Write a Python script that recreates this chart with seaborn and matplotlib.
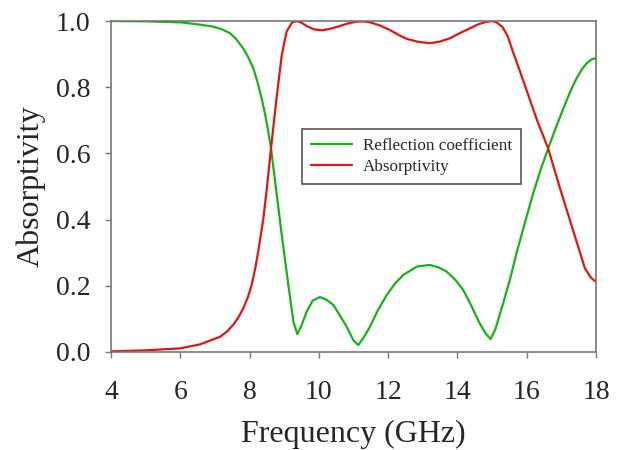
import matplotlib
matplotlib.use("Agg")
import matplotlib.pyplot as plt
import seaborn as sns
import pandas as pd

# Reflection coefficient (green)
refl_freq = [4.0, 5.0, 6.0, 6.5, 6.95, 7.2, 7.44, 7.6, 7.82, 7.95, 8.11, 8.23, 8.35, 8.45, 8.54,
             8.62, 8.75, 8.93, 9.12, 9.27, 9.38, 9.5, 9.65, 9.82, 10.03, 10.22, 10.42, 10.6,
             10.8, 11.0, 11.14, 11.3, 11.48, 11.7, 11.96, 12.2, 12.44, 12.83, 13.2, 13.45,
             13.69, 13.95, 14.17, 14.4, 14.65, 14.82, 14.96, 15.1, 15.3, 15.52, 15.71, 16.0,
             16.19, 16.4, 16.62, 16.85, 17.06, 17.25, 17.44, 17.6, 17.73, 17.87, 18.0]
refl_vals = [1.0, 0.999, 0.996, 0.99, 0.983, 0.975, 0.963, 0.947, 0.917, 0.893, 0.857, 0.815, 0.766,
             0.718, 0.666, 0.616, 0.505, 0.353, 0.202, 0.09, 0.054, 0.08, 0.122, 0.155, 0.166,
             0.158, 0.142, 0.112, 0.077, 0.035, 0.021, 0.045, 0.077, 0.125, 0.172, 0.207, 0.233,
             0.258, 0.263, 0.256, 0.243, 0.217, 0.187, 0.14, 0.085, 0.055, 0.039, 0.07, 0.14,
             0.22, 0.30, 0.41, 0.48, 0.55, 0.615, 0.68, 0.736, 0.785, 0.827, 0.855, 0.872,
             0.884, 0.888]

# Absorptivity (red)
abs_freq = [4.0, 5.0, 6.0, 6.57, 7.15, 7.35, 7.53, 7.68, 7.82, 7.95, 8.06, 8.16, 8.25, 8.4,
            8.51, 8.62, 8.78, 8.93, 9.07, 9.22, 9.36, 9.5, 9.65, 9.85, 10.1, 10.35, 10.61,
            10.85, 11.09, 11.3, 11.48, 11.75, 12.05, 12.3, 12.54, 12.87, 13.21, 13.5, 13.79,
            14.1, 14.36, 14.6, 14.85, 15.0, 15.13, 15.3, 15.45, 15.61, 15.8, 16.0, 16.3,
            16.62, 16.96, 17.35, 17.68, 17.85, 18.0]
abs_vals = [0.002, 0.005, 0.011, 0.023, 0.046, 0.062, 0.082, 0.105, 0.132, 0.165, 0.202, 0.25,
            0.303, 0.404, 0.505, 0.616, 0.767, 0.897, 0.968, 0.995, 1.0, 0.995, 0.985, 0.975,
            0.972, 0.977, 0.985, 0.993, 0.998, 0.999, 0.996, 0.987, 0.973, 0.958, 0.946, 0.937,
            0.933, 0.938, 0.948, 0.965, 0.978, 0.99, 0.998, 1.0, 0.996, 0.982, 0.955, 0.905,
            0.85, 0.79, 0.70, 0.615, 0.495, 0.364, 0.253, 0.225, 0.212]

x_ticks = [4, 6, 8, 10, 12, 14, 16, 18]
y_ticks = [0.0, 0.2, 0.4, 0.6, 0.8, 1.0]
y_tick_labels = ["0.0", "0.2", "0.4", "0.6", "0.8", "1.0"]

sns.set_style("white")
plt.rcParams['font.family'] = ['Liberation Serif', 'DejaVu Serif']

fig = plt.figure(figsize=(6.21, 4.5), dpi=100)
ax = fig.add_axes([0.1787, 0.2178, 0.7810, 0.7355])

df_r = pd.DataFrame({"Frequency": refl_freq, "Value": refl_vals})
df_a = pd.DataFrame({"Frequency": abs_freq, "Value": abs_vals})
sns.lineplot(data=df_r, x="Frequency", y="Value", ax=ax, color="#17b217",
             linewidth=1.6, label="Reflection coefficient")
sns.lineplot(data=df_a, x="Frequency", y="Value", ax=ax, color="#e01515",
             linewidth=1.6, label="Absorptivity")

ax.set_xlim(4, 18)
ax.set_ylim(0, 1.0)
ax.set_xticks(x_ticks)
ax.set_xticklabels([str(t) for t in x_ticks])
ax.set_yticks(y_ticks)
ax.set_yticklabels(y_tick_labels)
ax.tick_params(axis="both", which="major", labelsize=20, direction="out",
               length=4, width=1, color="#777777", bottom=True, left=True)
ax.tick_params(axis="x", pad=16)
ax.tick_params(axis="y", pad=11)
for s in ax.spines.values():
    s.set_color("#777777")
    s.set_linewidth(1.2)

ax.set_xlabel("Frequency (GHz)", fontsize=23, labelpad=11)
ax.set_ylabel("Absorptivity", fontsize=23, labelpad=7)

leg = ax.legend(loc="upper left", bbox_to_anchor=(0.394, 0.674), fontsize=12.3,
                frameon=True, fancybox=False, framealpha=1, edgecolor="#555555",
                handlelength=2.4, handletextpad=0.6, labelspacing=0.25, borderpad=0.55,
                borderaxespad=0)
leg.get_frame().set_linewidth(1.2)

fig.savefig("out.png", dpi=100, facecolor="white")
